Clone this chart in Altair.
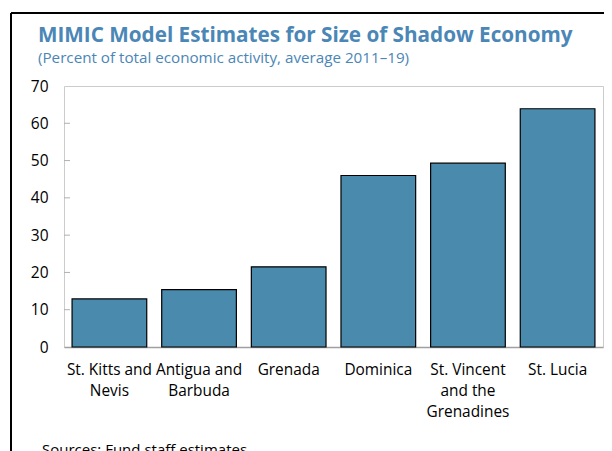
import altair as alt
import pandas as pd

countries = ["St. Kitts and Nevis", "Antigua and Barbuda", "Grenada", "Dominica",
             "St. Vincent and the Grenadines", "St. Lucia"]
label_lines = [["St. Kitts and", "Nevis"], ["Antigua and", "Barbuda"], ["Grenada"],
               ["Dominica"], ["St. Vincent", "and the", "Grenadines"], ["St. Lucia"]]
values = [12.9, 15.4, 21.5, 46.0, 49.3, 63.9]
y_labels = [0, 10, 20, 30, 40, 50, 60, 70]
y_ticks = [10, 20, 30, 40, 50, 60]

title_text = "MIMIC Model Estimates for Size of Shadow Economy"
subtitle_text = "(Percent of total economic activity, average 2011\u201319)"
source_text = "Sources: Fund staff estimates."

FONT = "Open Sans"
BLUE = "#4a86b6"

df = pd.DataFrame({"country": countries, "value": values})

# label expression for multi-line category labels
expr = "[]"
for name, lines in reversed(list(zip(countries, label_lines))):
    arr = "[" + ",".join("'" + l + "'" for l in lines) + "]"
    expr = f"datum.value === '{name}' ? {arr} : ({expr})"

x_enc = alt.X("country:N", sort=countries,
              scale=alt.Scale(paddingInner=0.167, paddingOuter=0.09),
              axis=alt.Axis(title=None, labelAngle=0, labelExpr=expr, labelFont=FONT,
                            labelFontSize=15.4, labelColor="#000000", labelPadding=15,
                            labelLineHeight=21, labelBaseline="top", labelOverlap=False,
                            ticks=False, domain=True, domainColor="#a0a0a0", domainWidth=1.5))

y_scale = alt.Scale(domain=[0, 70], nice=False)


def y_axis():
    return alt.Axis(title=None, values=y_labels, grid=False, labelOverlap=False,
                    ticks=False, domain=False, labelFont=FONT, labelFontSize=15.5,
                    labelColor="#000000", labelPadding=16)


bars = alt.Chart(df).mark_bar(color="#4a8bad", stroke="#000000", strokeWidth=1.2).encode(
    x=x_enc, y=alt.Y("value:Q", scale=y_scale, axis=y_axis()))

tick_df = pd.DataFrame({"value": y_ticks})
yticks = alt.Chart(tick_df).mark_rule(color="#b0b0b0", strokeWidth=1).encode(
    y=alt.Y("value:Q", scale=y_scale, axis=y_axis()), x=alt.value(0), x2=alt.value(6))

one = pd.DataFrame({"a": [0]})
frame_top = alt.Chart(one).mark_rule(color="#000000", strokeWidth=2).encode(
    x=alt.value(-53), x2=alt.value(560), y=alt.value(-73))
frame_left = alt.Chart(one).mark_rule(color="#000000", strokeWidth=2).encode(
    x=alt.value(-53), y=alt.value(-73), y2=alt.value(400))

title = alt.Chart(one).mark_text(text=title_text, font=FONT, fontSize=20.7, fontWeight="bold",
                                 align="left", baseline="alphabetic", color=BLUE).encode(
    x=alt.value(-26), y=alt.value(-44))
subtitle = alt.Chart(one).mark_text(text=subtitle_text, font=FONT, fontSize=15.2,
                                    align="left", baseline="alphabetic", color=BLUE).encode(
    x=alt.value(-26), y=alt.value(-23))
sources = alt.Chart(one).mark_text(text=source_text, font=FONT,
                                   fontSize=15, align="left", baseline="alphabetic",
                                   color="#000000").encode(
    x=alt.value(-22), y=alt.value(369))

chart = alt.layer(bars, yticks, frame_top, frame_left, title, subtitle, sources).properties(
    width=539, height=261,
    padding={"left": 56, "top": 78, "right": 1, "bottom": 104},
    autosize=alt.AutoSizeParams(type="none"),
).configure_view(stroke="#cccccc", strokeWidth=1)

chart.save("out.html", embed_options={"renderer": "svg", "actions": False})
